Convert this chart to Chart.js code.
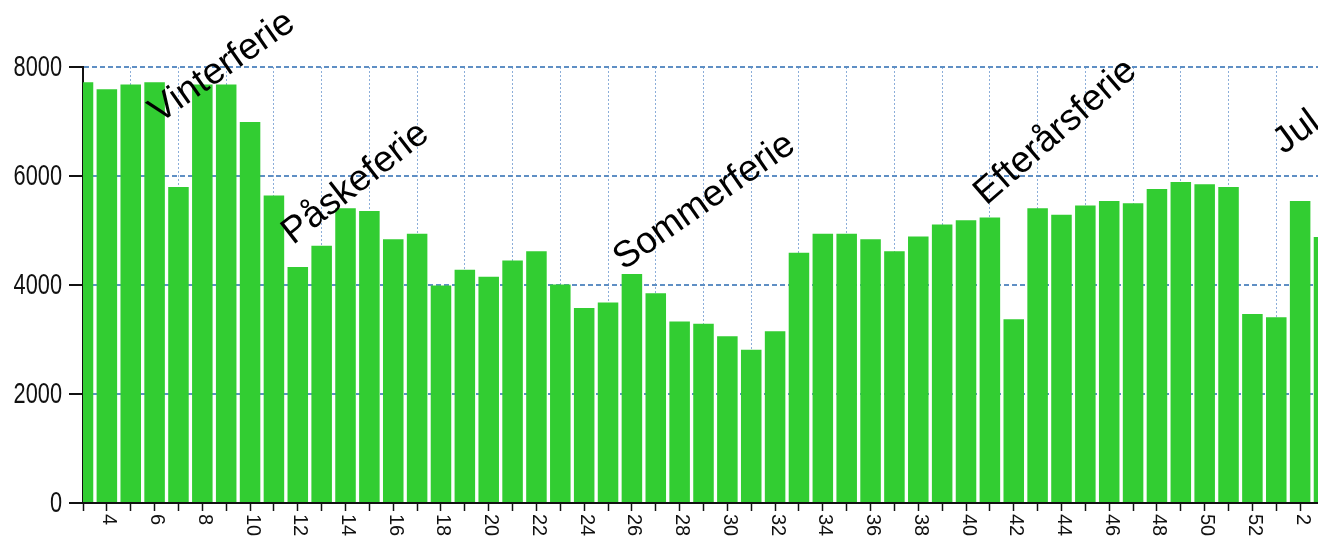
<!DOCTYPE html>
<html>
<head>
<meta charset="utf-8">
<title>Uger</title>
<script src="https://cdn.jsdelivr.net/npm/chart.js@4/dist/chart.umd.min.js"></script>
<style>
    html, body { margin: 0; padding: 0; background: #fff; overflow: hidden; }
    #wrap { width: 1324px; height: 553px; }
</style>
</head>
<body>
<div id="wrap"><canvas id="weekChart" width="1324" height="553"></canvas></div>
<script>
'use strict';

// Week numbers along the x axis (runs into the next year)
const weeks = [
    '3', '4', '5', '6', '7', '8', '9', '10', '11', '12',
    '13', '14', '15', '16', '17', '18', '19', '20', '21', '22',
    '23', '24', '25', '26', '27', '28', '29', '30', '31', '32',
    '33', '34', '35', '36', '37', '38', '39', '40', '41', '42',
    '43', '44', '45', '46', '47', '48', '49', '50', '51', '52',
    '1', '2', '3'
];

// Value per week
const counts = [
    7720, 7590, 7680, 7720, 5800, 7680, 7680, 6990, 5640, 4330,
    4720, 5410, 5360, 4840, 4940, 3990, 4280, 4150, 4450, 4620,
    4010, 3580, 3680, 4200, 3850, 3330, 3290, 3060, 2810, 3150,
    4590, 4940, 4940, 4840, 4620, 4890, 5110, 5190, 5240, 3370,
    5410, 5290, 5460, 5540, 5500, 5760, 5890, 5850, 5800, 3470,
    3410, 5540, 4880
];

// Y axis ticks
const yTicks = [0, 2000, 4000, 6000, 8000];

// Holiday captions, anchored at (category index, value)
const holidays = ['Vinterferie', 'Påskeferie', 'Sommerferie', 'Efterårsferie', 'Jul'];
const holidayAt = [3.2, 8.8, 22.65, 37.85, 50.3];
const holidayValue = [6960, 4730, 4260, 5450, 6390];
const holidayAngle = [35, 38, 35, 41, 36];

// Draws the y labels, the rotated week labels and the holiday captions
const labelPlugin = {
    id: 'weekLabels',
    afterDraw(chart) {
        const ctx = chart.ctx;
        const x = chart.scales.x;
        const y = chart.scales.y;

        // y labels, squeezed like a narrow face
        ctx.save();
        ctx.fillStyle = '#111';
        ctx.font = '29px "Liberation Sans", Arial, sans-serif';
        ctx.textAlign = 'right';
        ctx.textBaseline = 'middle';
        yTicks.forEach((v) => {
            ctx.save();
            ctx.translate(y.right - 21, y.getPixelForValue(v) + 1);
            ctx.scale(0.75, 1);
            ctx.fillText(String(v), 0, 0);
            ctx.restore();
        });
        ctx.restore();

        // week labels, every other one, reading top to bottom
        ctx.save();
        ctx.fillStyle = '#111';
        ctx.font = '20px "Liberation Sans", Arial, sans-serif';
        ctx.textAlign = 'left';
        ctx.textBaseline = 'middle';
        weeks.forEach((w, i) => {
            if (i % 2 === 0) return;
            ctx.save();
            ctx.translate(x.getPixelForValue(i) + 2, x.top + 11);
            ctx.rotate(Math.PI / 2);
            ctx.fillText(w, 0, 0);
            ctx.restore();
        });
        ctx.restore();

        // holiday captions
        ctx.save();
        ctx.fillStyle = '#000';
        ctx.font = '37px "Liberation Sans", Arial, sans-serif';
        ctx.textAlign = 'left';
        ctx.textBaseline = 'alphabetic';
        holidays.forEach((text, i) => {
            ctx.save();
            ctx.translate(x.getPixelForValue(holidayAt[i]), y.getPixelForValue(holidayValue[i]));
            ctx.rotate(-holidayAngle[i] * Math.PI / 180);
            ctx.fillText(text, 0, 0);
            ctx.restore();
        });
        ctx.restore();
    }
};

const chart = new Chart(document.getElementById('weekChart').getContext('2d'), {
    type: 'bar',
    data: {
        labels: weeks,
        datasets: [{
            data: counts,
            backgroundColor: '#32cd32',
            borderWidth: 0,
            barPercentage: 0.86,
            categoryPercentage: 1.0
        }]
    },
    options: {
        responsive: false,
        animation: false,
        layout: {
            padding: { top: 67, left: 0, right: 0, bottom: 0 }
        },
        plugins: {
            legend: { display: false },
            tooltip: { enabled: false }
        },
        scales: {
            x: {
                type: 'category',
                offset: false,
                afterFit(scale) { scale.height = 50; },
                grid: {
                    offset: false,
                    color: (c) => (c.index % 2 === 0 ? 'rgba(120,160,210,0.85)' : 'rgba(0,0,0,0)'),
                    lineWidth: 1,
                    drawTicks: true,
                    tickLength: 8,
                    tickColor: '#111',
                    tickWidth: 1.5
                },
                border: { display: true, color: '#111', width: 2, dash: [2, 2] },
                ticks: { display: false, autoSkip: false }
            },
            y: {
                min: 0,
                max: 8000,
                afterFit(scale) { scale.width = 83; },
                afterBuildTicks(scale) {
                    scale.ticks = yTicks.map((v) => ({ value: v }));
                },
                grid: {
                    color: (c) => (c.tick && c.tick.value === 0 ? 'rgba(0,0,0,0)' : '#5f8fc4'),
                    lineWidth: 2,
                    drawTicks: true,
                    tickLength: 14,
                    tickColor: '#111',
                    tickWidth: 2
                },
                border: { display: true, color: '#111', width: 2, dash: [5, 3] },
                ticks: { display: false }
            }
        }
    },
    plugins: [labelPlugin]
});
</script>
</body>
</html>
